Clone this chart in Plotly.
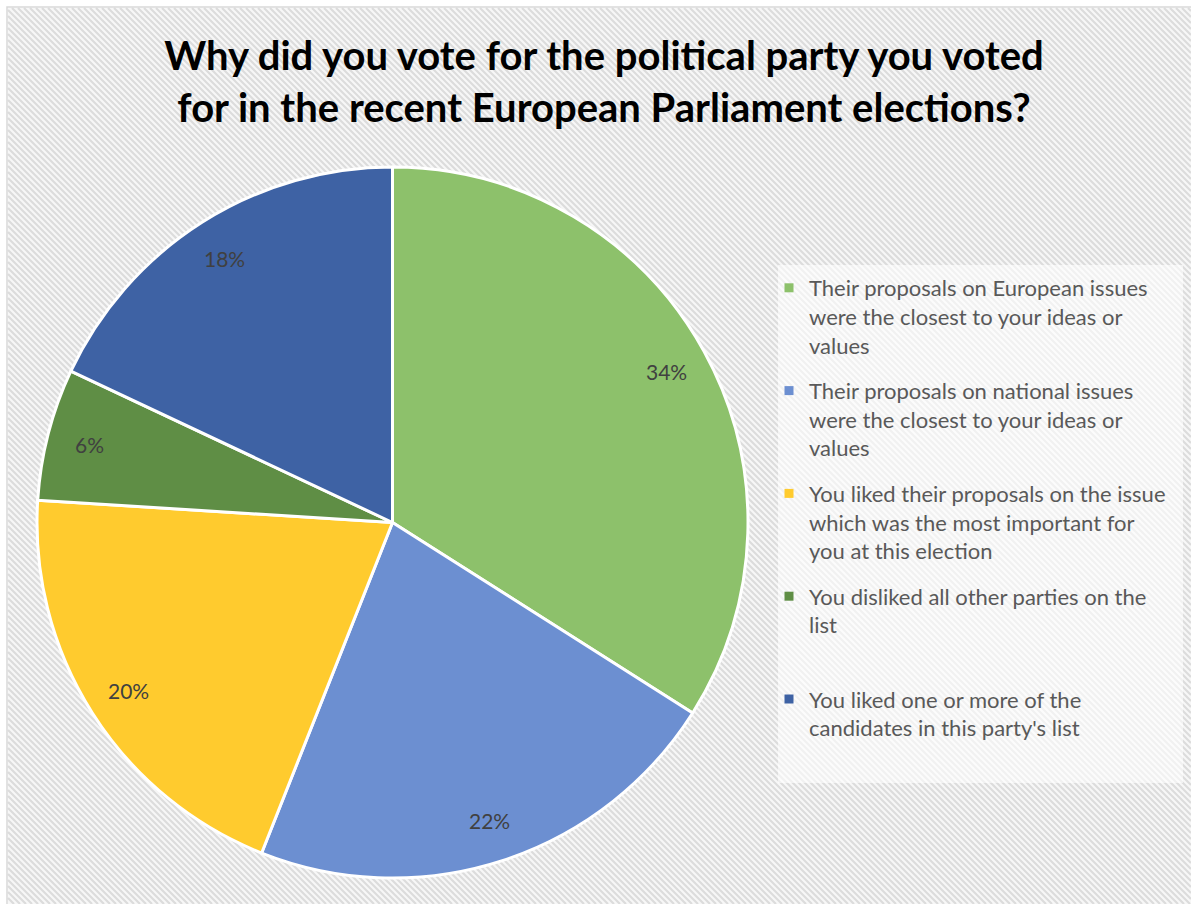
import numpy as np
import plotly.graph_objects as go

W, H = 1191, 904

# ---- data -------------------------------------------------------------
reasons = [
    "Their proposals on European issues<br>were the closest to your ideas or<br>values",
    "Their proposals on national issues<br>were the closest to your ideas or<br>values",
    "You liked their proposals on the issue<br>which was the most important for<br>you at this election",
    "You disliked all other parties on the<br>list<br> ",
    "You liked one or more of the<br>candidates in this party's list",
]
shares = [34, 22, 20, 6, 18]
slice_colors = ["#8DC16B", "#6C8FD1", "#FFCB2E", "#5F8E45", "#3E62A4"]

title_text = ("Why did you vote for the political party you voted<br>"
              "for in the recent European Parliament elections?")

# ---- geometry of the pie (pixels -> paper, margins are zero) -------------
pie_cx, pie_cy, pie_r = 392.5, 522.5, 355.5
dom_x = [(pie_cx - pie_r) / W, (pie_cx + pie_r) / W]
dom_y = [1 - (pie_cy + pie_r) / H, 1 - (pie_cy - pie_r) / H]

fig = go.Figure()
fig.add_trace(go.Pie(
    labels=reasons,
    values=shares,
    sort=False,
    direction="clockwise",
    rotation=0,
    textinfo="none",
    hoverinfo="label+percent",
    showlegend=False,
    marker=dict(colors=slice_colors, line=dict(color="white", width=3)),
    domain=dict(x=dom_x, y=dom_y),
))

# legend entries: one group per reason so the gap between entries is even
for i, (name, col) in enumerate(zip(reasons, slice_colors)):
    fig.add_trace(go.Scatter(
        x=[None], y=[None], mode="markers", name=name,
        marker=dict(symbol="square", size=9, color=col),
        legendgroup=f"reason{i}", showlegend=True, hoverinfo="skip",
    ))

# percentage labels placed near the outer end of each slice
vals = np.array(shares, dtype=float)
mid = (np.cumsum(vals) - vals / 2) / vals.sum() * 2 * np.pi
annotations = []
for v, a in zip(shares, mid):
    px = pie_cx + 0.88 * pie_r * np.sin(a)
    py = pie_cy - 0.88 * pie_r * np.cos(a)
    annotations.append(dict(
        x=px / W, y=1 - py / H, xref="paper", yref="paper",
        xanchor="center", yanchor="middle",
        text=f"{v}%", showarrow=False,
        font=dict(family="Lato", size=21, color="#404040"),
    ))

# ---- diagonal hatched background inside the chart frame -----------------
x0f, y0f, x1f, y1f = 8, 8, W, H
step = 6.0
segs = []
c = -(y1f - x0f)
while c < x1f - y0f:
    # line: y = x - c  (runs down and to the right)
    xa = max(x0f, y0f + c)
    xb = min(x1f, y1f + c)
    if xb > xa:
        ya, yb = xa - c, xb - c
        segs.append(f"M{xa / W:.5f},{1 - ya / H:.5f}L{xb / W:.5f},{1 - yb / H:.5f}")
    c += step
hatch_path = "".join(segs)

shapes = [
    dict(type="rect", xref="paper", yref="paper",
         x0=x0f / W, x1=1.01, y0=-0.01, y1=1 - y0f / H,
         fillcolor="#F7F7F7", line=dict(width=0), layer="below"),
    dict(type="path", xref="paper", yref="paper", path=hatch_path,
         line=dict(color="#DCDCDC", width=2.2), layer="below"),
    # frame
    dict(type="rect", xref="paper", yref="paper",
         x0=(x0f - 1) / W, x1=1.01, y0=-0.01, y1=1 - (y0f - 1) / H,
         line=dict(color="#D9D9D9", width=1.5), layer="below"),
    # softened panel behind the legend
    dict(type="rect", xref="paper", yref="paper",
         x0=778 / W, x1=1183 / W, y0=1 - 783 / H, y1=1 - 265 / H,
         fillcolor="rgba(255,255,255,0.6)", line=dict(width=0), layer="below"),
]

fig.update_layout(
    width=W, height=H,
    margin=dict(l=0, r=0, t=0, b=0),
    paper_bgcolor="white",
    plot_bgcolor="rgba(0,0,0,0)",
    xaxis=dict(visible=False),
    yaxis=dict(visible=False),
    title=dict(
        text=title_text,
        x=604 / W, xanchor="center",
        y=1 - 70 / H, yanchor="top",
        font=dict(family="Lato", size=40, color="#000000", weight="bold"),
    ),
    showlegend=True,
    legend=dict(
        x=769 / W, xanchor="left",
        y=1 - 267 / H, yanchor="top",
        bgcolor="rgba(0,0,0,0)",
        font=dict(family="Lato", size=22, color="#595959"),
        valign="top",
        itemwidth=30,
        traceorder="grouped",
        tracegroupgap=14,
    ),
    shapes=shapes,
    annotations=annotations,
)

fig.write_html("out.html")
